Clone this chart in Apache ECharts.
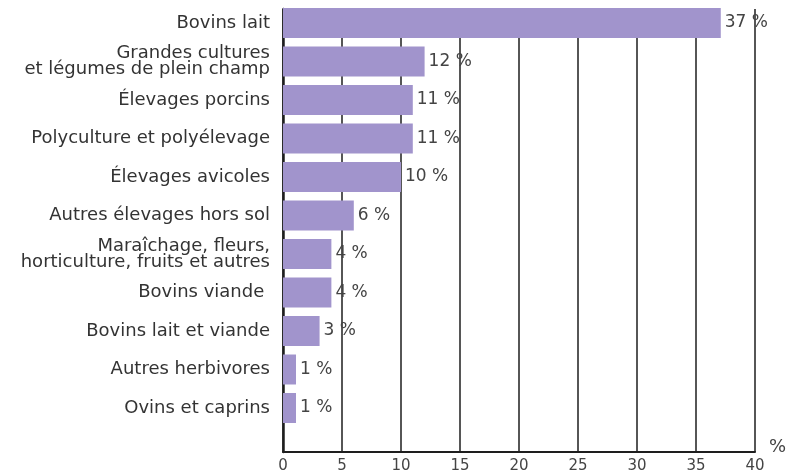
<!DOCTYPE html>
<html>
<head>
<meta charset="utf-8">
<script src="https://cdn.jsdelivr.net/npm/echarts@6/dist/echarts.min.js"></script>
<style>html,body{margin:0;padding:0;background:#fff}#c{width:795px;height:474px}</style>
</head>
<body>
<div id="c"></div>
<script>
const categories = [
  'Bovins lait',
  'Grandes cultures\net légumes de plein champ',
  'Élevages porcins',
  'Polyculture et polyélevage',
  'Élevages avicoles',
  'Autres élevages hors sol',
  'Maraîchage, fleurs,\nhorticulture, fruits et autres',
  'Bovins viande ',
  'Bovins lait et viande',
  'Autres herbivores',
  'Ovins et caprins'
];
const values = [37.1, 12, 11, 11, 10, 6, 4.1, 4.1, 3.1, 1.1, 1.1];
const valueLabels = ['37 %', '12 %', '11 %', '11 %', '10 %', '6 %', '4 %', '4 %', '3 %', '1 %', '1 %'];
const xMin = 0, xMax = 40, xStep = 5;
const unitLabel = '%';

const FONT = 'DejaVu Sans';
const chart = echarts.init(document.getElementById('c'), null, {renderer: 'canvas'});
chart.setOption({
  animation: false,
  textStyle: {fontFamily: FONT},
  grid: [
    {left: 283, right: 40, top: 3.75, bottom: 46.75},
    {left: 283, right: 40, top: 9, bottom: 22}
  ],
  xAxis: [
    {gridIndex: 0, type: 'value', min: xMin, max: xMax, interval: xStep, show: false},
    {gridIndex: 1, type: 'value', min: xMin, max: xMax, interval: xStep,
     axisLine: {show: true, lineStyle: {color: '#1e1e1e', width: 2}},
     axisTick: {show: false},
     axisLabel: {color: '#444', fontSize: 15, fontFamily: FONT, margin: 7},
     splitLine: {show: true, lineStyle: {color: '#1e1e1e', width: 1.5}},
     name: unitLabel, nameLocation: 'end', nameGap: 14,
     nameTextStyle: {color: '#444', fontSize: 18, fontFamily: FONT, verticalAlign: 'bottom', padding: [0, 0, -4, 0]}
    }
  ],
  yAxis: [
    {gridIndex: 0, type: 'category', inverse: true, data: categories,
     axisLine: {show: false}, axisTick: {show: false}, splitLine: {show: false},
     axisLabel: {color: '#333', fontSize: 18, lineHeight: 16, fontFamily: FONT, margin: 13}
    },
    {gridIndex: 1, type: 'value', min: 0, max: 1,
     axisLine: {show: true, lineStyle: {color: '#1e1e1e', width: 2.5}},
     axisTick: {show: false}, axisLabel: {show: false}, splitLine: {show: false}
    }
  ],
  series: [{
    type: 'bar', xAxisIndex: 0, yAxisIndex: 0,
    data: values, barWidth: 30,
    itemStyle: {color: '#a194cc'},
    label: {show: true, position: 'right', distance: 4, color: '#444', fontSize: 17, fontFamily: FONT,
            formatter: p => valueLabels[p.dataIndex]}
  }]
});
</script>
</body>
</html>
